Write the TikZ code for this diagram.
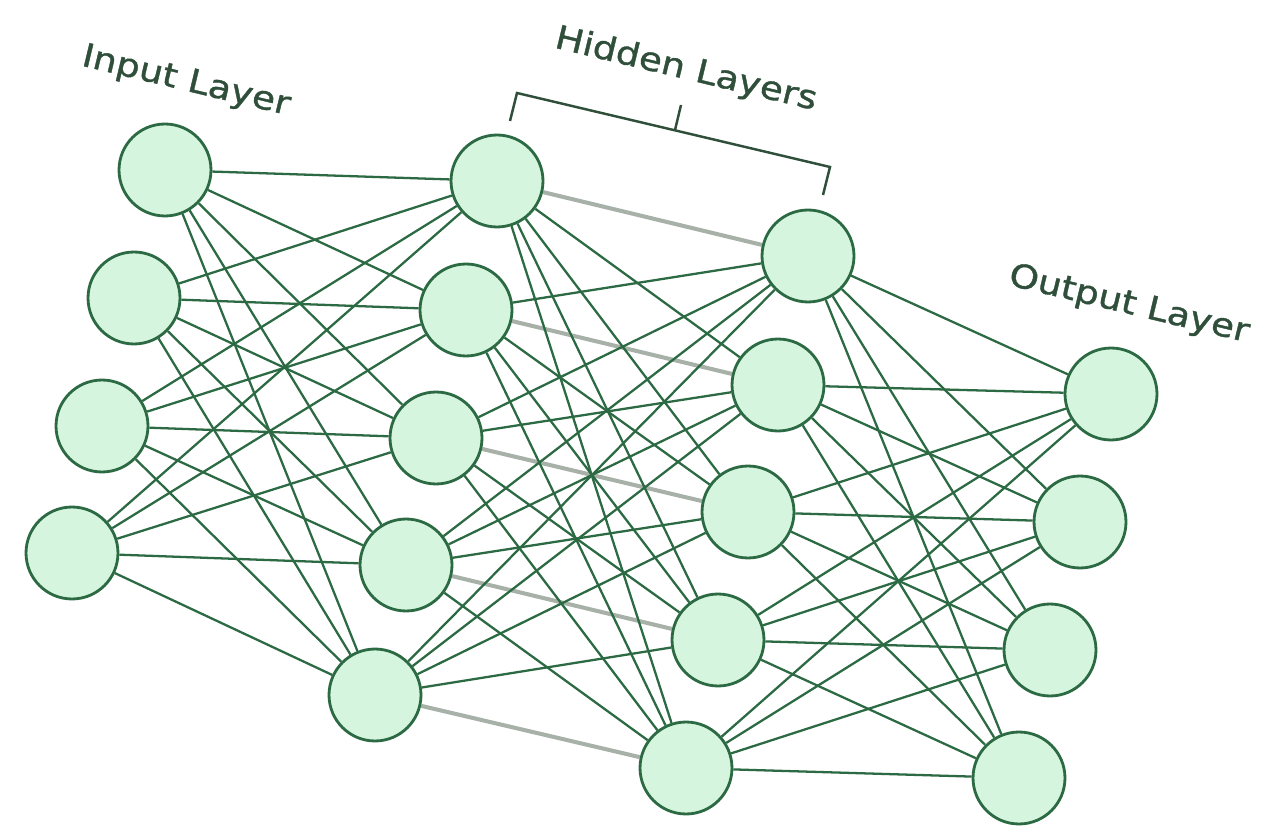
\documentclass[tikz,border=0pt]{standalone}
\usepackage{fontspec}
\newfontfamily\labelfont[FakeStretch=1.15,FakeBold=1.2]{DejaVu Sans}
\usetikzlibrary{backgrounds}
\definecolor{nodefill}{HTML}{D6F5DE}
\definecolor{wire}{HTML}{2C6A43}
\definecolor{labelink}{HTML}{2F4F3B}
\definecolor{skipwire}{HTML}{A7B1A8}
\begin{document}
\begin{tikzpicture}[x=0.02cm,y=-0.02cm,
  neuron/.style={circle,draw=wire,fill=nodefill,line width=1.6pt,minimum size=1.84cm,inner sep=0pt},
  link/.style={draw=wire,line width=1.3pt},
  samelink/.style={draw=skipwire,line width=2.3pt},
  layerlabel/.style={font=\labelfont\fontsize{18.5}{20}\selectfont,text=labelink,rotate=-13.5,inner sep=0pt},
  bracketline/.style={draw=labelink,line width=1.4pt}]
\useasboundingbox (0,0) rectangle (1281,837);

% neurons
\foreach \n/\x/\y in {1/165/170,2/134/298,3/102/426,4/72/553}
  \node[neuron] (in\n) at (\x,\y) {};
\foreach \n/\x/\y in {1/497/181,2/466/310,3/436/438,4/406/565,5/375/695}
  \node[neuron] (ha\n) at (\x,\y) {};
\foreach \n/\x/\y in {1/808/256,2/778/385,3/748/512,4/718/640,5/686/768}
  \node[neuron] (hb\n) at (\x,\y) {};
\foreach \n/\x/\y in {1/1111/394,2/1080/522,3/1050/650,4/1019/778}
  \node[neuron] (out\n) at (\x,\y) {};

% connections behind the neurons
\begin{scope}[on background layer]
  \foreach \i in {1,...,5} \draw[samelink] (ha\i) -- (hb\i);
  \foreach \i in {1,...,4} \foreach \j in {1,...,5} \draw[link] (in\i) -- (ha\j);
  \foreach \i in {1,...,5} \foreach \j in {1,...,5} {
    \ifnum\i=\j\relax\else \draw[link] (ha\i) -- (hb\j);\fi
  }
  \foreach \i in {1,...,5} \foreach \j in {1,...,4} \draw[link] (hb\i) -- (out\j);
\end{scope}

% labels
\node[layerlabel] (lin) at (186,82) {Input Layer};
\node[layerlabel] (lhid) at (686,70) {Hidden Layers};
\node[layerlabel] (lout) at (1129,305) {Output Layer};

% bracket over the hidden layers
\coordinate (bl0) at (510,121);
\coordinate (bl1) at (517,93);
\coordinate (br1) at (830,167);
\coordinate (br0) at (823,195);
\coordinate (bm0) at (675,130);
\coordinate (bm1) at (681,105);
\draw[bracketline] (bl0) -- (bl1) -- (br1) -- (br0);
\draw[bracketline] (bm0) -- (bm1);
\end{tikzpicture}
\end{document}
